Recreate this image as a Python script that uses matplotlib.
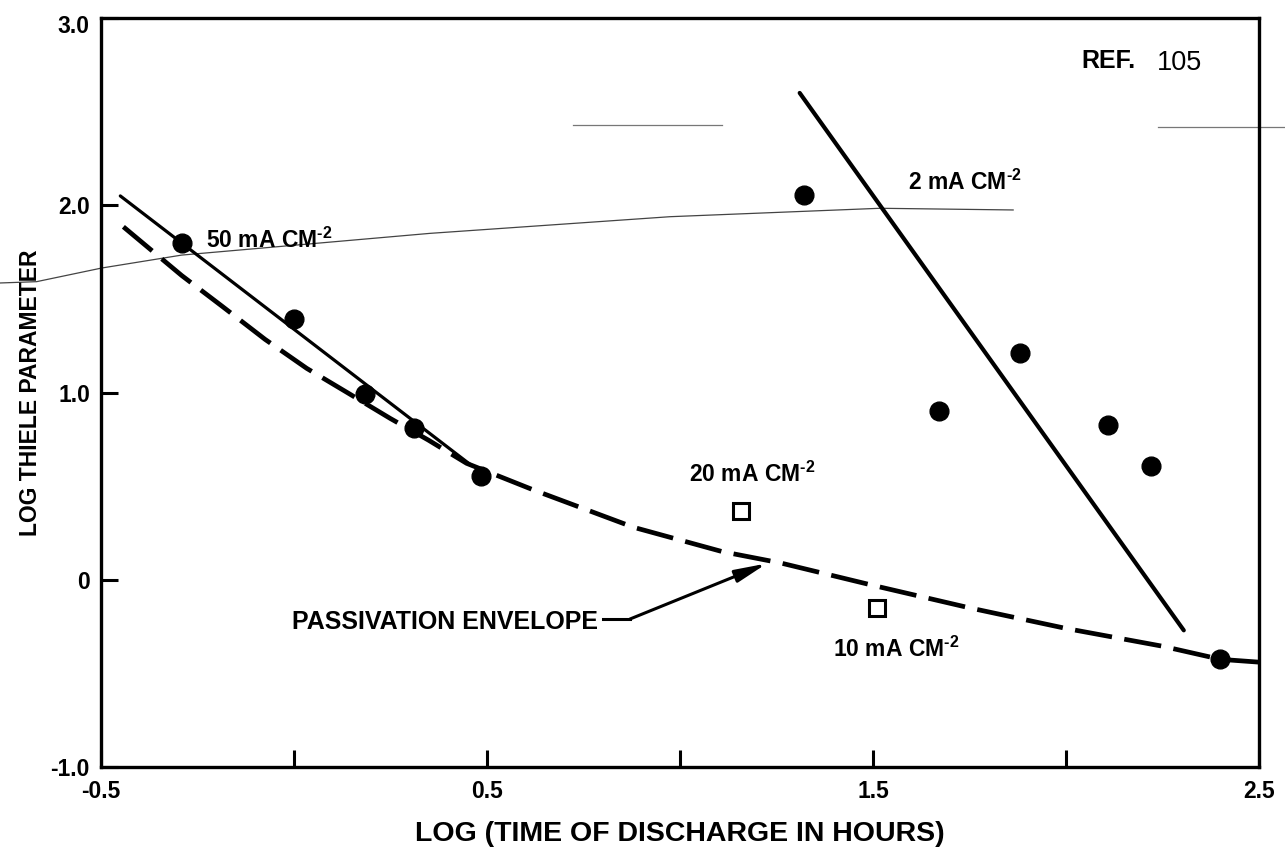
import matplotlib
matplotlib.use("Agg")
import matplotlib.pyplot as plt
from matplotlib.transforms import ScaledTranslation

# ---------------- data ----------------
circle_x = [-0.29, 0.0, 0.185, 0.31, 0.485, 1.32, 1.67, 1.88, 2.11, 2.22, 2.40]
circle_y = [1.80, 1.39, 0.99, 0.81, 0.555, 2.055, 0.90, 1.21, 0.825, 0.61, -0.425]

square_x = [1.157, 1.51]
square_y = [0.367, -0.15]

line50_x = [-0.45, 0.46]
line50_y = [2.05, 0.61]

line2_x = [1.31, 2.305]
line2_y = [2.60, -0.27]

envelope_x = [-0.442, -0.291, -0.187, -0.075, 0.033, 0.141, 0.249, 0.348, 0.447,
              0.62, 0.88, 1.11, 1.26, 1.50, 1.75, 2.00, 2.25, 2.40, 2.50]
envelope_y = [1.885, 1.625, 1.462, 1.284, 1.129, 0.996, 0.862, 0.746, 0.622,
              0.48, 0.28, 0.15, 0.09, -0.03, -0.15, -0.26, -0.355, -0.425, -0.44]

# faint scan artefacts visible on the page
scan_arc_x = [-0.762, -0.667, -0.498, -0.291, 0.352, 0.974, 1.518, 1.863]
scan_arc_y = [1.585, 1.592, 1.665, 1.734, 1.850, 1.939, 1.984, 1.975]
scan_bar1_x = [0.723, 1.109]
scan_bar1_y = [2.429, 2.429]
scan_bar2_x = [2.238, 2.567]
scan_bar2_y = [2.418, 2.418]

x_ticks = [-0.5, 0.0, 0.5, 1.0, 1.5, 2.0, 2.5]
x_ticklabels = ["-0.5", "", "0.5", "", "1.5", "", "2.5"]
y_ticks = [-1.0, 0.0, 1.0, 2.0, 3.0]
y_ticklabels = ["-1.0", "0", "1.0", "2.0", "3.0"]

x_label = "LOG (TIME OF DISCHARGE IN HOURS)"
y_label = "LOG THIELE PARAMETER"

# ---------------- styling ----------------
plt.rcParams["font.family"] = ["Liberation Sans", "DejaVu Sans"]
plt.rcParams["font.weight"] = "bold"
plt.rcParams["mathtext.fontset"] = "custom"
plt.rcParams["mathtext.rm"] = "Liberation Sans:bold"
plt.rcParams["mathtext.bf"] = "Liberation Sans:bold"
plt.rcParams["mathtext.it"] = "Liberation Sans:bold"
plt.rcParams["mathtext.default"] = "regular"
plt.rcParams["lines.scale_dashes"] = False

fig = plt.figure(figsize=(12.85, 8.51), dpi=100)
ax = fig.add_axes([0.0786, 0.0987, 0.9012, 0.8801])
ax.set_xlim(-0.5, 2.5)
ax.set_ylim(-1.0, 3.0)

for s in ax.spines.values():
    s.set_linewidth(2.4)

ax.set_xticks(x_ticks)
ax.set_xticklabels(x_ticklabels, fontsize=16.5, fontweight="bold")
ax.set_yticks(y_ticks)
ax.set_yticklabels(y_ticklabels, fontsize=16.5, fontweight="bold")
ax.tick_params(direction="in", length=12, width=2.2)
ax.tick_params(axis="x", pad=9)
ax.tick_params(axis="y", pad=8)

# top y label sits slightly below its tick in the reference
ylabs = ax.get_yticklabels()
ylabs[-1].set_transform(ylabs[-1].get_transform() +
                        ScaledTranslation(0, -4 / 72, fig.dpi_scale_trans))

ax.set_xlabel(x_label, fontsize=20.5, fontweight="bold")
ax.xaxis.set_label_coords(0.5, -0.072)
ax.set_ylabel(y_label, fontsize=16.5, fontweight="bold")
ax.yaxis.set_label_coords(-0.051, 0.5)

# scan artefacts (faint)
ax.plot(scan_arc_x, scan_arc_y, color="#444444", lw=0.9, clip_on=False, zorder=1)
ax.plot(scan_bar1_x, scan_bar1_y, color="#777777", lw=0.9, clip_on=False, zorder=1)
ax.plot(scan_bar2_x, scan_bar2_y, color="#777777", lw=0.9, clip_on=False, zorder=1)

# lines
ax.plot(line50_x, line50_y, color="black", lw=2.3, solid_capstyle="round", zorder=3)
ax.plot(line2_x, line2_y, color="black", lw=3.0, solid_capstyle="round", zorder=3)
ax.plot(envelope_x, envelope_y, color="black", lw=3.4, dashes=(27, 9),
        dash_capstyle="butt", zorder=3)

# markers
ax.plot(circle_x, circle_y, "o", color="black", ms=13.5, zorder=4, clip_on=False)
ax.plot(square_x, square_y, "s", mfc="white", mec="black", mew=2.2, ms=11.5, zorder=4)

# annotations
sup = r"$^{\text{-}2}$"
lab_kw = dict(fontsize=16.5, fontweight="bold", ha="left", va="baseline")
ax.text(-0.228, 1.772, "50 mA CM" + sup, **lab_kw)
ax.text(1.591, 2.081, "2 mA CM" + sup, **lab_kw)
ax.text(1.023, 0.524, "20 mA CM" + sup, **lab_kw)
ax.text(1.396, -0.411, "10 mA CM" + sup, **lab_kw)

ax.text(-0.005, -0.263, "PASSIVATION ENVELOPE", fontsize=18, fontweight="bold",
        ha="left", va="baseline")
ax.plot([0.80, 0.87], [-0.21, -0.21], color="black", lw=2.2)
ax.annotate("", xy=(1.225, 0.087), xytext=(0.87, -0.21),
            arrowprops=dict(arrowstyle="-|>,head_length=1.9,head_width=0.38",
                            lw=2.2, color="black", shrinkA=0, shrinkB=0))

ax.text(2.041, 2.732, "REF.", fontsize=18, fontweight="bold", ha="left", va="baseline")
ax.text(2.236, 2.722, "105", fontsize=19.5, fontweight="normal", ha="left", va="baseline")

fig.savefig("out.png", dpi=100)
